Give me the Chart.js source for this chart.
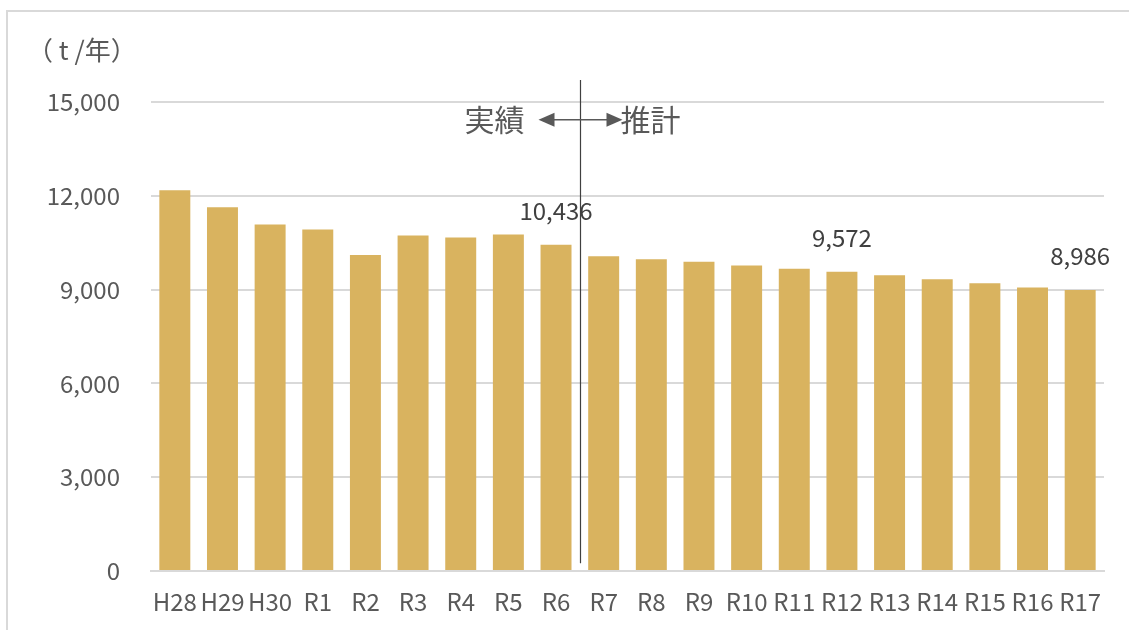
<!DOCTYPE html>
<html>
<head>
<meta charset="utf-8">
<script src="https://cdn.jsdelivr.net/npm/chart.js@4"></script>
<style>
html,body{margin:0;padding:0;background:#fff;}
#frame{position:absolute;left:6px;top:10px;width:1130px;height:630px;border-left:2px solid #d9d9d9;border-top:2px solid #d9d9d9;}
#wrap{position:absolute;left:0;top:0;width:1129px;height:630px;}
</style>
</head>
<body>
<div id="frame"></div>
<div id="wrap"><canvas id="c" width="1129" height="630"></canvas></div>
<script>
// 年度
const labels = ["H28","H29","H30","R1","R2","R3","R4","R5","R6","R7","R8","R9","R10","R11","R12","R13","R14","R15","R16","R17"];
// 排出量 (t/年)
const values = [12180,11630,11080,10920,10110,10730,10670,10760,10436,10070,9970,9890,9770,9670,9572,9460,9330,9200,9070,8986];
// ラベルを出す年度
const shownLabels = ["R6","R12","R17"];
const yTicks = [0,3000,6000,9000,12000,15000];

const FONT = "'Noto Sans CJK JP','Noto Sans',sans-serif";

const extras = {
  id:"extras",
  afterDatasetsDraw(chart){
    const ctx = chart.ctx;
    const meta = chart.getDatasetMeta(0);
    ctx.save();
    // データラベル
    ctx.font = "24px " + FONT;
    ctx.fillStyle = "#404040";
    ctx.textAlign = "center";
    ctx.textBaseline = "middle";
    meta.data.forEach((bar,i)=>{
      if(shownLabels.indexOf(labels[i]) < 0) return;
      ctx.fillText(values[i].toLocaleString("en-US"), bar.x, bar.y - 34);
    });
    // 実績 / 推計 の区切り
    const x = chart.scales.x;
    const y = chart.scales.y;
    const i6 = labels.indexOf("R6");
    const sx = Math.round((x.getPixelForValue(i6) + x.getPixelForValue(i6+1)) / 2) + 0.5;
    ctx.strokeStyle = "#404040";
    ctx.lineWidth = 1.2;
    ctx.beginPath();
    ctx.moveTo(sx, y.getPixelForValue(15700));
    ctx.lineTo(sx, y.getPixelForValue(250));
    ctx.stroke();
    const ay = y.getPixelForValue(14430);
    const half = 42;
    ctx.strokeStyle = "#595959";
    ctx.fillStyle = "#595959";
    ctx.lineWidth = 1.5;
    ctx.beginPath();
    ctx.moveTo(sx-half+12, ay);
    ctx.lineTo(sx+half-12, ay);
    ctx.stroke();
    ctx.beginPath();
    ctx.moveTo(sx-half, ay); ctx.lineTo(sx-half+16, ay-7); ctx.lineTo(sx-half+16, ay+7); ctx.closePath(); ctx.fill();
    ctx.beginPath();
    ctx.moveTo(sx+half, ay); ctx.lineTo(sx+half-16, ay-7); ctx.lineTo(sx+half-16, ay+7); ctx.closePath(); ctx.fill();
    ctx.font = "30px " + FONT;
    ctx.fillStyle = "#595959";
    ctx.textAlign = "right";
    ctx.fillText("実績", sx-half-14, ay);
    ctx.textAlign = "left";
    ctx.fillText("推計", sx+half-2, ay);
    // 単位
    ctx.font = "26px " + FONT;
    ctx.textAlign = "left";
    ctx.fillText("（ t /年）", 27, 50);
    ctx.restore();
  }
};

new Chart(document.getElementById("c"),{
  type:"bar",
  data:{
    labels:labels,
    datasets:[{
      data:values,
      backgroundColor:"#d9b35f",
      categoryPercentage:0.65,
      barPercentage:1
    }]
  },
  options:{
    responsive:false,
    animation:false,
    layout:{padding:{top:102,right:25,bottom:0,left:0}},
    plugins:{legend:{display:false},tooltip:{enabled:false}},
    scales:{
      x:{
        grid:{display:false,drawTicks:false},
        border:{color:"#d9d9d9",width:2},
        ticks:{color:"#595959",font:{family:FONT,size:24},padding:16,maxRotation:0,autoSkip:false},
        afterFit(s){ s.height = 59; }
      },
      y:{
        min:0,max:15000,
        afterBuildTicks(s){ s.ticks = yTicks.map(v=>({value:v})); },
        grid:{color:"#d9d9d9",lineWidth:2,drawTicks:false},
        border:{display:false},
        ticks:{color:"#595959",font:{family:FONT,size:24},padding:31,
          callback:v=>v.toLocaleString("en-US")},
        afterFit(s){ s.width = 151; }
      }
    }
  },
  plugins:[extras]
});
</script>
</body>
</html>
